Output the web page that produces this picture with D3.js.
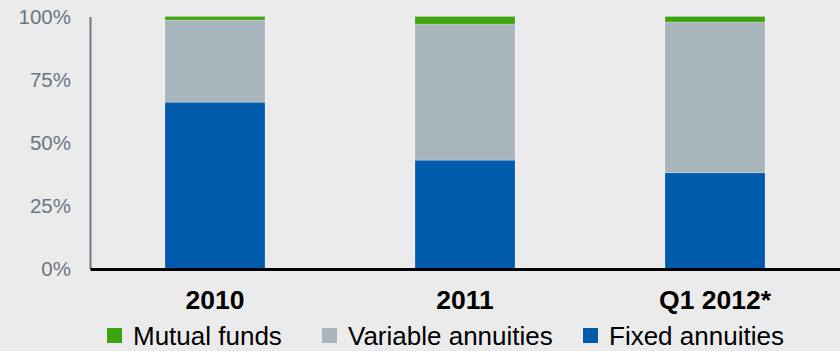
<!DOCTYPE html>
<html>
<head>
<meta charset="utf-8">
<script src="https://cdn.jsdelivr.net/npm/d3@7"></script>
<style>
  body { margin: 0; background: #ebebeb; }
  svg { display: block; font-family: "Liberation Sans", Arial, sans-serif; }
</style>
</head>
<body>
<div id="chart"></div>
<script>
// data (shares of total, in %)
const periods = ["2010", "2011", "Q1 2012*"];
const fixedAnnuities = [66, 43, 38];
const variableAnnuities = [32.6, 54, 59.8];
const mutualFunds = [1.4, 3, 2.2];
const seriesNames = ["Fixed annuities", "Variable annuities", "Mutual funds"];
const yTicks = [0, 0.25, 0.5, 0.75, 1];
const legendOrder = ["Mutual funds", "Variable annuities", "Fixed annuities"];

const W = 840, H = 351;
const colors = d3.scaleOrdinal()
  .domain(seriesNames)
  .range(["#005bac", "#a9b5bd", "#3ca40f"]);

const rows = periods.map((p, i) => ({
  period: p,
  "Fixed annuities": fixedAnnuities[i] / 100,
  "Variable annuities": variableAnnuities[i] / 100,
  "Mutual funds": mutualFunds[i] / 100
}));
const stacked = d3.stack().keys(seriesNames)(rows);

const x = d3.scaleBand()
  .domain(periods)
  .range([90, 840])
  .paddingInner(0.6)
  .paddingOuter(0.3);
const y = d3.scaleLinear().domain([0, 1]).range([268.5, 16.5]);

const svg = d3.select("#chart").append("svg")
  .attr("width", W)
  .attr("height", H);

svg.append("rect").attr("width", W).attr("height", H).attr("fill", "#ebebeb");

// bars
svg.append("g").selectAll("g")
  .data(stacked)
  .join("g")
  .attr("fill", d => colors(d.key))
  .selectAll("rect")
  .data(d => d)
  .join("rect")
  .attr("x", d => x(d.data.period))
  .attr("width", x.bandwidth())
  .attr("y", d => y(d[1]))
  .attr("height", d => y(d[0]) - y(d[1]))
  .attr("stroke", "rgba(255,255,255,0.25)")
  .attr("stroke-width", 0.8);

// y axis
const yAxis = svg.append("g")
  .attr("transform", "translate(90,0)")
  .call(d3.axisLeft(y).tickValues(yTicks).tickFormat(d3.format(".0%")).tickSize(0).tickPadding(19));
yAxis.select(".domain").attr("stroke", "#6d7885").attr("stroke-width", 2);
yAxis.selectAll("text")
  .attr("fill", "#6b7682")
  .style("font-size", "20.5px")
  .style("font-family", "'Liberation Sans', Arial, sans-serif");

// x axis baseline + labels
const xAxis = svg.append("g")
  .attr("transform", "translate(0,269)")
  .call(d3.axisBottom(x).tickSize(0).tickPadding(0));
xAxis.select(".domain").attr("stroke", "#000").attr("stroke-width", 3);
xAxis.selectAll("text")
  .attr("dy", null)
  .attr("y", 40)
  .attr("fill", "#000")
  .style("font-size", "26.5px")
  .style("font-weight", "bold")
  .style("font-family", "'Liberation Sans', Arial, sans-serif");

// legend (square left edges)
const legendX = [107, 322, 583];
const legend = svg.append("g").attr("transform", "translate(0,345)");
legendOrder.forEach((name, i) => {
  const g = legend.append("g").attr("transform", `translate(${legendX[i]},0)`);
  g.append("rect")
    .attr("x", 0).attr("y", -17)
    .attr("width", 15).attr("height", 15)
    .attr("fill", colors(name));
  g.append("text")
    .attr("x", 26).attr("y", 0)
    .attr("fill", "#000")
    .style("font-size", "26px")
    .text(name);
});
</script>
</body>
</html>
